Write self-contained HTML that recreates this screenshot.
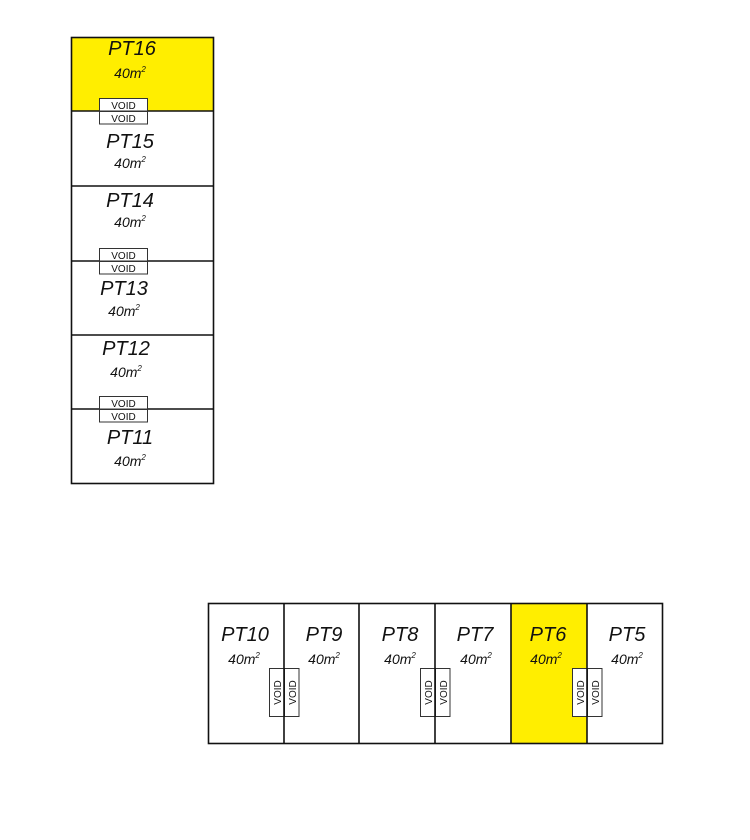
<!DOCTYPE html>
<html><head><style>body{margin:0;background:#fff}svg{display:block}</style></head><body>
<svg width="750" height="840" xmlns="http://www.w3.org/2000/svg" font-family="Liberation Sans, sans-serif" font-style="italic">
<rect x="0" y="0" width="750" height="840" fill="#fff"/>
<rect x="72" y="38" width="142" height="73" fill="#ffee00"/>
<g stroke="#111" stroke-width="1.6" fill="none">
<rect x="71.5" y="37.5" width="142" height="446"/>
<line x1="71" y1="111" x2="214" y2="111"/>
<line x1="71" y1="186" x2="214" y2="186"/>
<line x1="71" y1="261" x2="214" y2="261"/>
<line x1="71" y1="335" x2="214" y2="335"/>
<line x1="71" y1="409" x2="214" y2="409"/>
</g>
<g stroke="#333" stroke-width="1" fill="#fff">
<rect x="99.5" y="98.5" width="48" height="12.5"/><rect x="99.5" y="111.5" width="48" height="12.5"/>
<rect x="99.5" y="248.5" width="48" height="12.5"/><rect x="99.5" y="261.5" width="48" height="12.5"/>
<rect x="99.5" y="396.5" width="48" height="12.5"/><rect x="99.5" y="409.5" width="48" height="12.5"/>
</g>
<g font-style="normal" font-size="10" text-anchor="middle" fill="#111">
<text x="123.5" y="109">VOID</text><text x="123.5" y="122">VOID</text>
<text x="123.5" y="259">VOID</text><text x="123.5" y="272">VOID</text>
<text x="123.5" y="407">VOID</text><text x="123.5" y="420">VOID</text>
</g>
<g text-anchor="middle" fill="#111">
<g font-size="20"><text x="132" y="55">PT16</text><text x="130" y="148">PT15</text><text x="130" y="207">PT14</text><text x="124" y="295">PT13</text><text x="126" y="355">PT12</text><text x="130" y="444">PT11</text></g>
<g font-size="14"><text x="130" y="78">40m<tspan font-size="8" dy="-6">2</tspan></text>
<text x="130" y="168">40m<tspan font-size="8" dy="-6">2</tspan></text>
<text x="130" y="227">40m<tspan font-size="8" dy="-6">2</tspan></text>
<text x="124" y="316">40m<tspan font-size="8" dy="-6">2</tspan></text>
<text x="126" y="377">40m<tspan font-size="8" dy="-6">2</tspan></text>
<text x="130" y="466">40m<tspan font-size="8" dy="-6">2</tspan></text></g>
</g>
<rect x="511" y="604" width="76" height="139" fill="#ffee00"/>
<g stroke="#111" stroke-width="1.6" fill="none">
<rect x="208.5" y="603.5" width="454" height="140"/>
<line x1="284" y1="603" x2="284" y2="744"/>
<line x1="359" y1="603" x2="359" y2="744"/>
<line x1="435" y1="603" x2="435" y2="744"/>
<line x1="511" y1="603" x2="511" y2="744"/>
<line x1="587" y1="603" x2="587" y2="744"/>
</g>
<g stroke="#333" stroke-width="1" fill="#fff">
<rect x="269.5" y="668.5" width="14.5" height="48"/><rect x="284.5" y="668.5" width="14.5" height="48"/>
<rect x="420.5" y="668.5" width="14.5" height="48"/><rect x="435.5" y="668.5" width="14.5" height="48"/>
<rect x="572.5" y="668.5" width="14.5" height="48"/><rect x="587.5" y="668.5" width="14.5" height="48"/>
</g>
<line x1="284" y1="668" x2="284" y2="717" stroke="#111" stroke-width="1.6"/>
<line x1="435" y1="668" x2="435" y2="717" stroke="#111" stroke-width="1.6"/>
<line x1="587" y1="668" x2="587" y2="717" stroke="#111" stroke-width="1.6"/>
<g font-style="normal" font-size="10" text-anchor="middle" fill="#111">
<text transform="translate(281,692.5) rotate(-90)">VOID</text><text transform="translate(296,692.5) rotate(-90)">VOID</text>
<text transform="translate(432,692.5) rotate(-90)">VOID</text><text transform="translate(447,692.5) rotate(-90)">VOID</text>
<text transform="translate(584,692.5) rotate(-90)">VOID</text><text transform="translate(599,692.5) rotate(-90)">VOID</text>
</g>
<g text-anchor="middle" fill="#111">
<g font-size="20"><text x="245" y="641">PT10</text><text x="324" y="641">PT9</text><text x="400" y="641">PT8</text><text x="475" y="641">PT7</text><text x="548" y="641">PT6</text><text x="627" y="641">PT5</text></g>
<g font-size="14"><text x="244" y="664">40m<tspan font-size="8" dy="-6">2</tspan></text>
<text x="324" y="664">40m<tspan font-size="8" dy="-6">2</tspan></text>
<text x="400" y="664">40m<tspan font-size="8" dy="-6">2</tspan></text>
<text x="476" y="664">40m<tspan font-size="8" dy="-6">2</tspan></text>
<text x="546" y="664">40m<tspan font-size="8" dy="-6">2</tspan></text>
<text x="627" y="664">40m<tspan font-size="8" dy="-6">2</tspan></text></g>
</g>
</svg>
</body></html>
